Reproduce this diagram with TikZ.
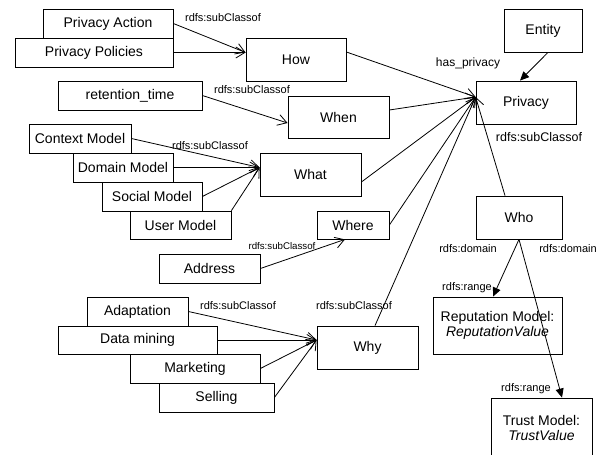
\documentclass[tikz,border=0pt]{standalone}
\usepackage{fontspec}
\setmainfont{Liberation Sans}
\usetikzlibrary{arrows.meta}
\tikzset{
 box/.style={draw, fill=white, line width=0.8pt, inner sep=0pt, font=\fontsize{14}{15}\selectfont, align=center},
 lbl/.style={font=\fontsize{11}{12}\selectfont, inner sep=0pt},
 sublink/.style={line width=0.8pt, -{Straight Barb[length=9pt,width=11pt]}},
 rellink/.style={line width=0.8pt, -{Triangle[length=9pt,width=8pt]}},
}
\begin{document}
\begin{tikzpicture}[x=1pt,y=-1pt]
\useasboundingbox (0,0) rectangle (603,455);
\fill[white] (0,0) rectangle (603,455);
\clip (0,0) rectangle (603,455);
% boxes
\node[box, minimum width=130pt, minimum height=29pt] (pa) at (108,23.5) {Privacy Action};
\node[box, minimum width=158pt, minimum height=29pt] (pp) at (94,52.5) {Privacy Policies};
\node[box, minimum width=100pt, minimum height=43pt] (how) at (296,59.5) {How};
\node[box, minimum width=144pt, minimum height=29pt] (ret) at (130,95.5) {retention\_time};
\node[box, minimum width=101pt, minimum height=42pt] (when) at (338.5,117) {When};
\node[box, minimum width=78pt, minimum height=43pt] (entity) at (543,30.5) {Entity};
\node[box, minimum width=100pt, minimum height=43pt] (priv) at (526,102.5) {Privacy};
\node[box, minimum width=102pt, minimum height=29pt] (ctx) at (80,138.5) {Context Model};
\node[box, minimum width=100pt, minimum height=29pt] (dom) at (123,167.5) {Domain Model};
\node[box, minimum width=100pt, minimum height=29pt] (soc) at (152,196.5) {Social Model};
\node[box, minimum width=101pt, minimum height=28pt] (user) at (180.5,225) {User Model};
\node[box, minimum width=101pt, minimum height=43pt] (what) at (310.5,174.5) {What};
\node[box, minimum width=72pt, minimum height=28pt] (where) at (353,225) {Where};
\node[box, minimum width=101pt, minimum height=29pt] (addr) at (209.5,268.5) {Address};
\node[box, minimum width=86pt, minimum height=43pt] (who) at (519,217.5) {Who};
\node[box, minimum width=129pt, minimum height=57pt] (rep) at (497.5,325.5) {Reputation Model:\\\textit{ReputationValue}};
\node[box, minimum width=101pt, minimum height=60pt] (trust) at (541.5,428) {Trust Model:\\\textit{TrustValue}};
\node[box, minimum width=101pt, minimum height=43pt] (why) at (367.5,347.5) {Why};
\node[box, minimum width=101pt, minimum height=29pt] (adapt) at (137.5,311.5) {Adaptation};
\node[box, minimum width=159pt, minimum height=28pt] (dm) at (137.5,340) {Data mining};
\node[box, minimum width=130pt, minimum height=29pt] (mkt) at (195,368.5) {Marketing};
\node[box, minimum width=115pt, minimum height=29pt] (sell) at (216.5,397.5) {Selling};
% convergence points
\coordinate (howIn) at (how.west |- pp.east);
\coordinate (whenIn) at ([yshift=-6pt]when.west);
\coordinate (whatIn) at (what.west |- dom.east);
\coordinate (whereIn) at ([xshift=-8pt]where.south);
\coordinate (whyIn) at (why.west |- dm.east);
\coordinate (privIn) at ([yshift=5.5pt]priv.west);
% subclass links
\draw[sublink] (pa.east) -- (howIn);
\draw[sublink] (pp.east) -- (howIn);
\draw[sublink] (ret.east) -- (whenIn);
\draw[sublink] (ctx.east) -- (whatIn);
\draw[sublink] (dom.east) -- (whatIn);
\draw[sublink] (soc.east) -- (whatIn);
\draw[sublink] (user.north east) -- (whatIn);
\draw[sublink] (addr.east) -- (whereIn);
\draw[sublink] (adapt.east) -- (whyIn);
\draw[sublink] (dm.east) -- (whyIn);
\draw[sublink] (mkt.east) -- (whyIn);
\draw[sublink] (sell.east) -- (whyIn);
\draw[sublink] ([yshift=7.5pt]how.east) -- (privIn);
\draw[sublink] ([yshift=7pt]when.east) -- (privIn);
\draw[sublink] ([yshift=-7.5pt]what.east) -- (privIn);
\draw[sublink] (where.east) -- (privIn);
\draw[sublink] ([xshift=7.5pt]why.north) -- (privIn);
\draw[sublink] ([xshift=-14pt]who.north) -- (privIn);
% relations
\draw[rellink] ([xshift=5pt]entity.south) -- ([xshift=-6pt]priv.north);
\draw[rellink] (who.south) -- ([xshift=-4.5pt]rep.north);
\draw[rellink] (who.south) -- ([xshift=20.5pt]trust.north);
% labels
\node[lbl] (l1) at (223,18) {rdfs:subClassof};
\node[lbl] (l2) at (252,90) {rdfs:subClassof};
\node[lbl] (l3) at (210,146) {rdfs:subClassof};
\node[lbl, font=\fontsize{9.7}{11}\selectfont] (l4) at (282,246) {rdfs:subClassof};
\node[lbl, font=\fontsize{12}{13}\selectfont] (l5) at (468,63) {has\_privacy};
\node[lbl, font=\fontsize{12.5}{13}\selectfont] (l6) at (539,137) {rdfs:subClassof};
\node[lbl] (l7) at (468,249) {rdfs:domain};
\node[lbl] (l8) at (568,249) {rdfs:domain};
\node[lbl] (l9) at (467,288) {rdfs:range};
\node[lbl] (l10) at (526,389) {rdfs:range};
\node[lbl] (l11) at (354,306) {rdfs:subClassof};
\node[lbl] (l12) at (238,306) {rdfs:subClassof};
\end{tikzpicture}
\end{document}
